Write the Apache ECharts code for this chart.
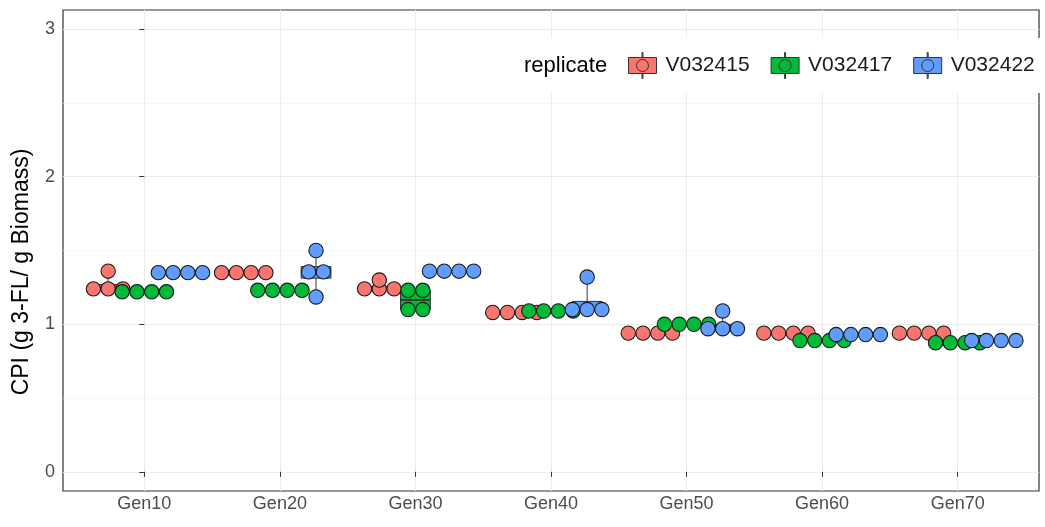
<!DOCTYPE html>
<html>
<head>
<meta charset="utf-8">
<script src="https://cdn.jsdelivr.net/npm/echarts@6/dist/echarts.min.js"></script>
<style>
html,body{margin:0;padding:0;background:#fff;}
#chart{width:1045px;height:527px;}
</style>
</head>
<body>
<div id="chart"></div>
<script>
// ---- data ----
const categories = ['Gen10', 'Gen20', 'Gen30', 'Gen40', 'Gen50', 'Gen60', 'Gen70'];
const replicates = ['V032415', 'V032417', 'V032422'];
const yTicks = [0, 1, 2, 3];
const yMinorTicks = [0.5, 1.5, 2.5];
// four measurements per generation for each replicate
const v032415 = [
  [1.24, 1.24, 1.24, 1.36],
  [1.35, 1.35, 1.35, 1.35],
  [1.24, 1.24, 1.24, 1.30],
  [1.08, 1.08, 1.08, 1.08],
  [0.94, 0.94, 0.94, 0.94],
  [0.94, 0.94, 0.94, 0.94],
  [0.94, 0.94, 0.94, 0.94]
];
const v032417 = [
  [1.22, 1.22, 1.22, 1.22],
  [1.23, 1.23, 1.23, 1.23],
  [1.23, 1.23, 1.10, 1.10],
  [1.09, 1.09, 1.09, 1.09],
  [1.00, 1.00, 1.00, 1.00],
  [0.89, 0.89, 0.89, 0.89],
  [0.875, 0.875, 0.875, 0.875]
];
const v032422 = [
  [1.35, 1.35, 1.35, 1.35],
  [1.50, 1.355, 1.355, 1.185],
  [1.36, 1.36, 1.36, 1.36],
  [1.32, 1.10, 1.10, 1.10],
  [1.09, 0.97, 0.97, 0.97],
  [0.93, 0.93, 0.93, 0.93],
  [0.89, 0.89, 0.89, 0.89]
];
const seriesValues = [v032415, v032417, v032422];
const yTitle = 'CPI (g 3-FL/ g Biomass)';
const legendTitle = 'replicate';

// ---- style constants ----
const colors = ['#F8766D', '#00BA38', '#619CFF'];
const DODGE = 0.8;
const BOX_W = 0.22;
const BINWIDTH = 0.1;

function quantile(sorted, p) {
  const h = (sorted.length - 1) * p;
  const lo = Math.floor(h), hi = Math.ceil(h);
  return sorted[lo] + (h - lo) * (sorted[hi] - sorted[lo]);
}
function boxItems(vals) {
  return vals.map((arr, gi) => {
    const s = arr.slice().sort((a, b) => a - b);
    return [gi, s[0], quantile(s, 0.25), quantile(s, 0.5), quantile(s, 0.75), s[s.length - 1]];
  });
}
function dotItems(vals) {
  const out = [];
  vals.forEach((arr, gi) => {
    const groups = {};
    arr.forEach(v => { const key = v.toFixed(3); (groups[key] = groups[key] || []).push(v); });
    Object.keys(groups).forEach(key => {
      const g = groups[key];
      g.forEach((v, k) => out.push([gi, v, k, g.length]));
    });
  });
  return out;
}
function boxRender(rep) {
  return function (params, api) {
    const gi = api.value(0);
    const xc = api.coord([gi + (rep - 1) * DODGE / 3, 0])[0];
    const half = api.size([BOX_W, 0])[0] / 2;
    const y = i => api.coord([gi, api.value(i)])[1];
    const ymin = y(1), yq1 = y(2), ymed = y(3), yq3 = y(4), ymax = y(5);
    const st = { stroke: '#333333', lineWidth: 1 };
    return {
      type: 'group',
      children: [
        { type: 'line', shape: { x1: xc, y1: ymax, x2: xc, y2: yq3 }, style: st },
        { type: 'line', shape: { x1: xc, y1: yq1, x2: xc, y2: ymin }, style: st },
        { type: 'rect', shape: { x: xc - half, y: yq3, width: 2 * half, height: Math.max(yq1 - yq3, 0.5) },
          style: { fill: colors[rep], stroke: '#333333', lineWidth: 1 } },
        { type: 'line', shape: { x1: xc - half, y1: ymed, x2: xc + half, y2: ymed },
          style: { stroke: '#333333', lineWidth: 2 } }
      ]
    };
  };
}
function dotRender(rep) {
  return function (params, api) {
    const gi = api.value(0), v = api.value(1), k = api.value(2), n = api.value(3);
    const p = api.coord([gi + (rep - 1) * DODGE / 3, v]);
    const d = api.size([0, BINWIDTH])[1];
    return {
      type: 'circle',
      shape: { cx: p[0] + (k - (n - 1) / 2) * d, cy: p[1], r: d / 2 - 0.2 },
      style: { fill: colors[rep], stroke: '#1a1a1a', lineWidth: 1.1 }
    };
  };
}

const legendIcon = 'path://M0,5H28V21H0Z M13.5,0H14.5V5H13.5Z M13.5,21H14.5V26H13.5Z M8,13A6,6 0 1,1 20,13A6,6 0 1,1 8,13Z';

const series = [];
replicates.forEach((name, r) => {
  series.push({
    name: name, type: 'custom', z: 2,
    renderItem: boxRender(r),
    encode: { x: 0, y: [1, 2, 3, 4, 5] },
    itemStyle: { color: colors[r], borderColor: '#333333', borderWidth: 1 },
    data: boxItems(seriesValues[r])
  });
});
replicates.forEach((name, r) => {
  series.push({
    name: name, type: 'custom', z: 3,
    renderItem: dotRender(r),
    encode: { x: 0, y: 1 },
    itemStyle: { color: colors[r], borderColor: '#333333', borderWidth: 1 },
    data: dotItems(seriesValues[r])
  });
});

const xTickVals = categories.map((c, i) => i);
const font = 'Liberation Sans, Arial, Helvetica, sans-serif';

const chart = echarts.init(document.getElementById('chart'), null, { renderer: 'canvas' });
chart.setOption({
  animation: false,
  backgroundColor: '#ffffff',
  textStyle: { fontFamily: font },
  grid: { left: 63, right: 6, top: 10, bottom: 36, show: true, borderColor: '#333333', borderWidth: 1.2, backgroundColor: '#ffffff' },
  xAxis: {
    type: 'value', min: -0.6, max: 6.6,
    axisLine: { show: false },
    axisTick: { show: true, length: 5, customValues: xTickVals, lineStyle: { color: '#333333', width: 1 } },
    axisLabel: { customValues: xTickVals, formatter: v => categories[Math.round(v)], color: '#4D4D4D', fontSize: 18, margin: 4, fontFamily: font },
    splitLine: { show: true, lineStyle: { color: '#EBEBEB', width: 1 } }
  },
  yAxis: [{
    type: 'value', min: -0.13, max: 3.13,
    axisLine: { show: false },
    axisTick: { show: true, length: 5, customValues: yTicks, lineStyle: { color: '#333333', width: 1 } },
    axisLabel: { customValues: yTicks, color: '#4D4D4D', fontSize: 18, margin: 8, fontFamily: font },
    splitLine: { show: true, lineStyle: { color: '#EBEBEB', width: 1 } }
  }, {
    type: 'value', min: -0.13, max: 3.13, position: 'left',
    axisLine: { show: false },
    axisTick: { show: false, customValues: yMinorTicks },
    axisLabel: { show: false, customValues: yMinorTicks },
    splitLine: { show: true, lineStyle: { color: '#F2F2F2', width: 0.6 } }
  }],
  legend: {
    data: replicates,
    left: 509, top: 38, width: 700,
    orient: 'horizontal',
    padding: [14, 8, 14, 119],
    backgroundColor: '#ffffff',
    itemWidth: 28, itemHeight: 26, itemGap: 21,
    icon: legendIcon,
    itemStyle: { borderColor: '#333333', borderWidth: 1 },
    textStyle: { color: '#1a1a1a', fontSize: 21, fontFamily: font, padding: [0, 0, 0, 4] }
  },
  graphic: [{
    type: 'text', left: 524, top: 55, z: 100,
    style: { text: legendTitle, fill: '#000000', fontSize: 22, fontFamily: font }
  }, {
    type: 'text', x: 22, y: 272, rotation: Math.PI / 2, z: 100,
    style: { text: yTitle, fill: '#000000', fontSize: 23, fontFamily: font, align: 'center', verticalAlign: 'middle' }
  }],
  series: series
});
</script>
</body>
</html>
